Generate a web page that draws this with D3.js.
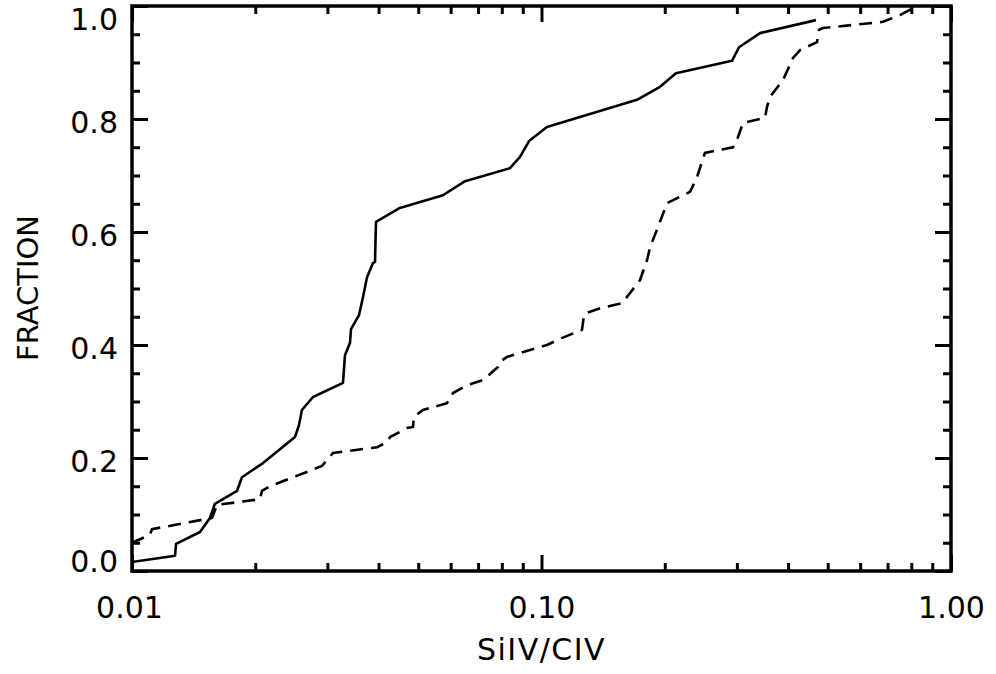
<!DOCTYPE html>
<html>
<head>
<meta charset="utf-8">
<script src="https://cdn.jsdelivr.net/npm/d3@7"></script>
<style>
  body { margin: 0; background: #fff; }
  text { font-family: "DejaVu Sans", sans-serif; fill: #000; }
</style>
</head>
<body>
<div id="chart"></div>
<script>
// solid curve (SiIV/CIV ratio, cumulative fraction)
var solidX = [0.0100, 0.01274, 0.01281, 0.01466, 0.0155, 0.01594, 0.01805, 0.01856, 0.02089, 0.0250,
  0.02557, 0.0260, 0.02767, 0.03275, 0.03312, 0.03407, 0.03426, 0.03584, 0.03666, 0.03749,
  0.03877, 0.03921, 0.03943, 0.04487, 0.05746, 0.06505, 0.08378, 0.08861, 0.09322, 0.1031,
  0.1711, 0.1947, 0.2130, 0.2919, 0.3036, 0.3417, 0.4681];
var solidY = [0.016, 0.027, 0.048, 0.069, 0.094, 0.119, 0.142, 0.166, 0.191, 0.237,
  0.258, 0.285, 0.308, 0.333, 0.382, 0.404, 0.428, 0.453, 0.485, 0.520,
  0.545, 0.547, 0.618, 0.642, 0.665, 0.690, 0.713, 0.733, 0.761, 0.786,
  0.834, 0.857, 0.881, 0.903, 0.927, 0.952, 0.975];

// dashed curve
var dashX = [0.0100, 0.01106, 0.01119, 0.01568, 0.01613, 0.02054, 0.02077, 0.02173, 0.02752, 0.02911,
  0.03096, 0.03966, 0.04195, 0.04266, 0.04694, 0.04855, 0.04882, 0.05136, 0.05877, 0.06079,
  0.06578, 0.07197, 0.0783, 0.07918, 0.08236, 0.09374, 0.1031, 0.1110, 0.1256, 0.1270,
  0.1291, 0.1390, 0.1573, 0.1645, 0.1740, 0.1810, 0.1841, 0.1914, 0.2026, 0.2305,
  0.2331, 0.2397, 0.2507, 0.2935, 0.3002, 0.3105, 0.3514, 0.3553, 0.3614, 0.3888,
  0.4114, 0.4279, 0.4708, 0.4762, 0.4869, 0.6823, 0.7508, 0.8169];
var dashY = [0.050, 0.064, 0.074, 0.094, 0.117, 0.127, 0.142, 0.150, 0.179, 0.186,
  0.209, 0.219, 0.228, 0.237, 0.253, 0.255, 0.273, 0.285, 0.297, 0.315,
  0.329, 0.338, 0.361, 0.370, 0.379, 0.391, 0.400, 0.411, 0.427, 0.453,
  0.457, 0.465, 0.474, 0.492, 0.515, 0.550, 0.573, 0.604, 0.651, 0.671,
  0.678, 0.697, 0.740, 0.750, 0.763, 0.793, 0.802, 0.821, 0.839, 0.869,
  0.908, 0.922, 0.936, 0.958, 0.961, 0.972, 0.984, 0.998];

var xMajor = [0.01, 0.1, 1];
var xLabels = ["0.01", "0.10", "1.00"];
var xMinor = [0.02, 0.03, 0.04, 0.05, 0.06, 0.07, 0.08, 0.09, 0.2, 0.3, 0.4, 0.5, 0.6, 0.7, 0.8, 0.9];
var yMajor = [0, 0.2, 0.4, 0.6, 0.8, 1.0];
var yLabels = ["0.0", "0.2", "0.4", "0.6", "0.8", "1.0"];
var yMinor = [0.05, 0.1, 0.15, 0.25, 0.3, 0.35, 0.45, 0.5, 0.55, 0.65, 0.7, 0.75, 0.85, 0.9, 0.95];

var svgWidth = 996;
var svgHeight = 674;
var margin = { top: 6, right: 45, bottom: 103, left: 132 };
var width = svgWidth - margin.left - margin.right;
var height = svgHeight - margin.top - margin.bottom;

var svg = d3.select("#chart")
  .append("svg")
  .attr("width", svgWidth)
  .attr("height", svgHeight);

var chartGroup = svg.append("g")
  .attr("transform", `translate(${margin.left}, ${margin.top})`);

var xScale = d3.scaleLog().domain([0.01, 1]).range([0, width]);
var yScale = d3.scaleLinear().domain([0, 1]).range([height, 0]);

// major + minor ticks, pointing inwards, on all four sides
function ticks(axis, vals, size, fmt) {
  return axis.tickValues(vals).tickSize(-size).tickSizeOuter(0).tickFormat(fmt || "");
}

var bottomAxis = chartGroup.append("g")
  .attr("transform", `translate(0, ${height})`)
  .call(ticks(d3.axisBottom(xScale), xMajor, 16, (d, i) => xLabels[i]).tickPadding(26));
chartGroup.append("g")
  .attr("transform", `translate(0, ${height})`)
  .call(ticks(d3.axisBottom(xScale), xMinor, 8));
chartGroup.append("g")
  .call(ticks(d3.axisTop(xScale), xMajor, 16));
chartGroup.append("g")
  .call(ticks(d3.axisTop(xScale), xMinor, 8));

var leftAxis = chartGroup.append("g")
  .call(ticks(d3.axisLeft(yScale), yMajor, 16, (d, i) => yLabels[i]).tickPadding(14));
chartGroup.append("g")
  .call(ticks(d3.axisLeft(yScale), yMinor, 8));
chartGroup.append("g")
  .attr("transform", `translate(${width}, 0)`)
  .call(ticks(d3.axisRight(yScale), yMajor, 16));
chartGroup.append("g")
  .attr("transform", `translate(${width}, 0)`)
  .call(ticks(d3.axisRight(yScale), yMinor, 8));

chartGroup.selectAll(".domain").remove();
chartGroup.selectAll(".tick line")
  .attr("stroke", "#000")
  .attr("stroke-width", 3);
chartGroup.selectAll(".tick text")
  .style("font-size", "30px")
  .style("font-family", "DejaVu Sans, sans-serif");

bottomAxis.selectAll(".tick text").attr("dx", (d, i) => i === 0 ? "-3" : "0");
leftAxis.selectAll(".tick text")
  .attr("dy", d => d === 0 ? "0.0em" : (d === 1 ? "0.78em" : "0.45em"));

// frame
chartGroup.append("rect")
  .attr("width", width)
  .attr("height", height)
  .attr("fill", "none")
  .attr("stroke", "#000")
  .attr("stroke-width", 3.5);

var line = d3.line()
  .x(d => xScale(d[0]))
  .y(d => yScale(d[1]));

chartGroup.append("path")
  .datum(solidX.map((x, i) => [x, solidY[i]]))
  .attr("d", line)
  .attr("fill", "none")
  .attr("stroke", "#000")
  .attr("stroke-width", 2.6)
  .attr("stroke-linejoin", "round");

chartGroup.append("path")
  .datum(dashX.map((x, i) => [x, dashY[i]]))
  .attr("d", line)
  .attr("fill", "none")
  .attr("stroke", "#000")
  .attr("stroke-width", 2.6)
  .attr("stroke-dasharray", "13,8");

// axis titles
svg.append("text")
  .attr("x", margin.left + width / 2)
  .attr("y", 660)
  .attr("text-anchor", "middle")
  .style("font-size", "30px")
  .style("letter-spacing", "1.5px")
  .text("SiIV/CIV");

svg.append("text")
  .attr("transform", "translate(38, 288) rotate(-90)")
  .attr("text-anchor", "middle")
  .style("font-size", "29px")
  .text("FRACTION");
</script>
</body>
</html>
